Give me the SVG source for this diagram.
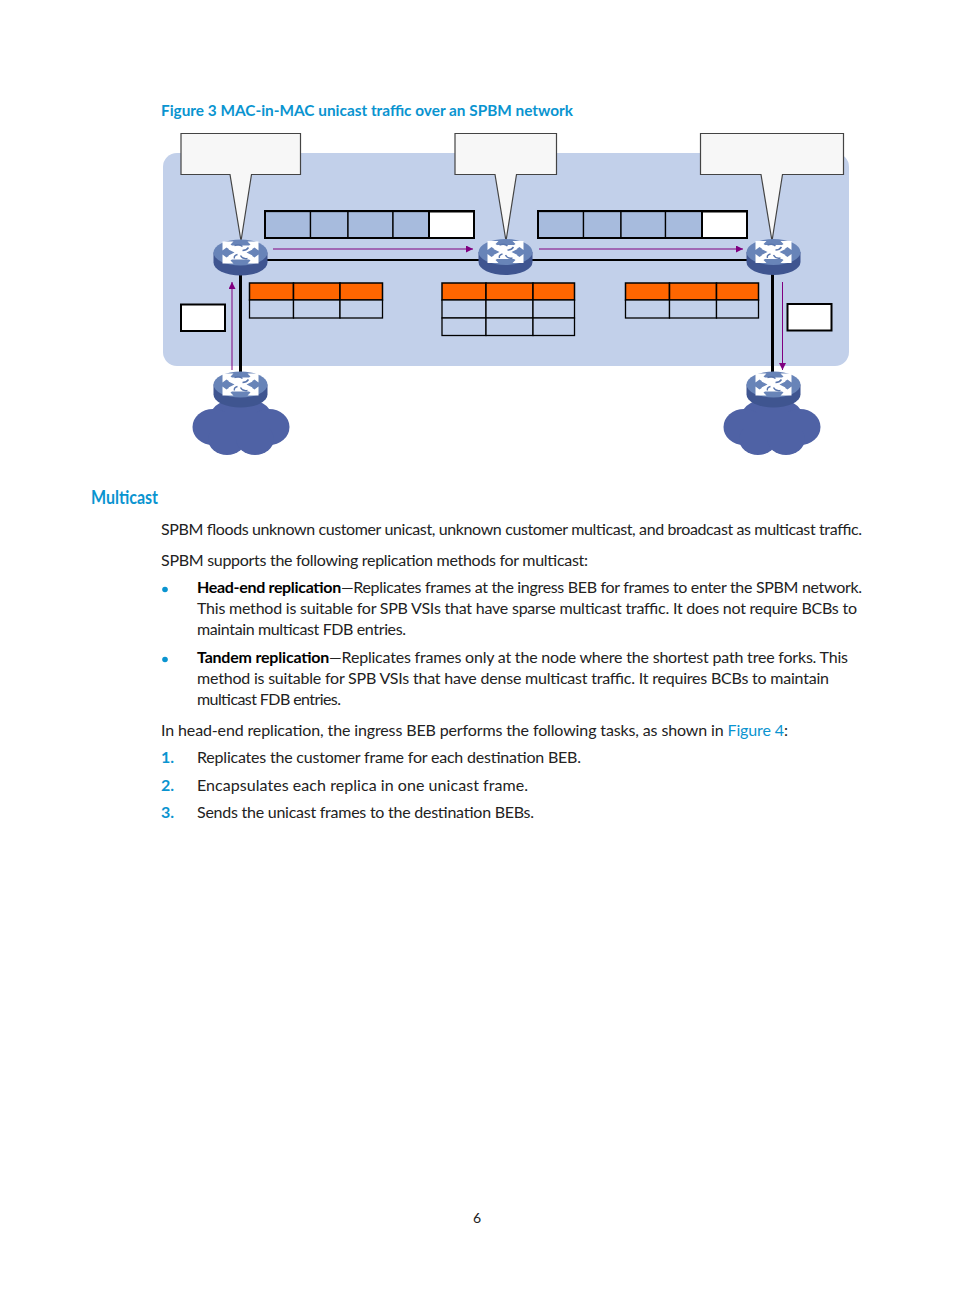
<svg xmlns="http://www.w3.org/2000/svg" xmlns:xlink="http://www.w3.org/1999/xlink" width="954" height="1296" viewBox="0 0 954 1296">
<style>
text{font-family:Lato,"Open Sans","Liberation Sans",sans-serif;font-size:16px;fill:#222}
.h{font-weight:700;fill:#0a94d0}
.b{font-weight:700;fill:#000}
.n{font-weight:700;fill:#0a94d0}
.lnk{fill:#0a94d0}
.call{fill:#f7f7f7;stroke:#444;stroke-width:1.2}
.cell{fill:#a7bbdd;stroke:#000;stroke-width:1.3}
.w{fill:#fff;stroke:#000;stroke-width:2}
.o{fill:#ff6600;stroke:#000;stroke-width:1.5}
.e{fill:#c2d0ea;stroke:#000;stroke-width:1.3}
.k{stroke:#000;fill:none}
.p{stroke:#800080;stroke-width:1;fill:none;marker-end:url(#a)}
</style>
<defs>
<marker id="a" markerUnits="userSpaceOnUse" markerWidth="8" markerHeight="8" refX="7" refY="3.5" orient="auto"><path d="M0,0L7,3.500L0,7z" fill="#800080"/></marker>
<g id="r">
<path d="M-27,0v10a27,13 0 0 0 54,0v-10z" fill="#3f5590"/>
<ellipse cx="0" cy="0" rx="27" ry="13" fill="#6884b8"/>
<g fill="#fff">
<path d="M-18,-11h11l-3,3 3,2 -4,3 -3,-2 -4,3z"/>
<path d="M18,-11h-11l3,3 -3,2 4,3 3,-2 4,3z"/>
<path d="M-18,11h11l-3,-3 3,-2 -4,-3 -3,2 -4,-3z"/>
<path d="M18,11h-11l3,-3 -3,-2 4,-3 3,2 4,-3z"/>
<path d="M-8,-7L8,-7L12,-3L6,0L12,3L8,7L-8,7L-12,3L-6,0L-12,-3z"/>
</g>
<path d="M-6,-7q5,-2 8,1M8,-5q-2,3 -6,3M-6,6q-1,-3 3,-4M7,6q-5,1 -7,-3" fill="none" stroke="#5a76ad" stroke-width="1.400"/>
</g>
<g id="c" fill="#4f62a5">
<ellipse cx="0" cy="-12" rx="30" ry="17"/>
<ellipse cx="-28" cy="0" rx="20.500" ry="18"/>
<ellipse cx="28" cy="0" rx="20.500" ry="18"/>
<ellipse cx="-14" cy="12" rx="19" ry="16"/>
<ellipse cx="14" cy="12" rx="19" ry="16"/>
<rect x="-28" y="-14" width="56" height="26"/>
</g>
</defs>

<text class="h" x="161" y="116" textLength="412" lengthAdjust="spacingAndGlyphs">Figure 3 MAC-in-MAC unicast traffic over an SPBM network</text>
<rect id="spbm-area" x="163" y="153" width="686" height="213" rx="14" fill="#c2d0ea"/>

<g id="connectors">
<path class="k" stroke-width="2" d="M267,260H480M532,260H748"/>
<path class="k" stroke-width="3" d="M240.500,272V372M772.500,272V372"/>
<path class="p" d="M273,249H473"/>
<path class="p" d="M539,249H743"/>
<path class="p" d="M232,370V282"/>
<path class="p" d="M782.500,282V370"/>
</g>

<g id="callout-left"><path class="call" d="M181,133.500H300.500V174.500H251.500L241,241L230,174.500H181z"/></g>
<g id="callout-mid"><path class="call" d="M455,133.500H556.500V174.500H516.500L506,241L495,174.500H455z"/></g>
<g id="callout-right"><path class="call" d="M700.500,133.500H843.500V174.500H782.500L772,241L761,174.500H700.500z"/></g>

<g id="frame-1">
<rect class="cell" x="265" y="211.500" width="45.500" height="26.500"/><rect class="cell" x="310.500" y="211.500" width="37.500" height="26.500"/><rect class="cell" x="348" y="211.500" width="45" height="26.500"/><rect class="cell" x="393" y="211.500" width="36" height="26.500"/><rect class="w" x="429" y="211.500" width="45" height="26.500"/>
<rect x="265" y="211" width="209" height="27" fill="none" stroke="#000" stroke-width="2"/>
</g>
<g id="frame-2">
<rect class="cell" x="538" y="211.500" width="45.500" height="26.500"/><rect class="cell" x="583.500" y="211.500" width="37.500" height="26.500"/><rect class="cell" x="621" y="211.500" width="44.500" height="26.500"/><rect class="cell" x="665.500" y="211.500" width="36.500" height="26.500"/><rect class="w" x="702" y="211.500" width="45" height="26.500"/>
<rect x="538" y="211" width="209" height="27" fill="none" stroke="#000" stroke-width="2"/>
</g>

<g id="table-left">
<rect class="o" x="249.500" y="283" width="44" height="17"/><rect class="o" x="293.500" y="283" width="46.500" height="17"/><rect class="o" x="340" y="283" width="42.500" height="17"/>
<rect class="e" x="249.500" y="300" width="44" height="18"/><rect class="e" x="293.500" y="300" width="46.500" height="18"/><rect class="e" x="340" y="300" width="42.500" height="18"/>
</g>
<g id="table-mid">
<rect class="o" x="442" y="283" width="44" height="17"/><rect class="o" x="486" y="283" width="47" height="17"/><rect class="o" x="533" y="283" width="41.500" height="17"/>
<rect class="e" x="442" y="300" width="44" height="18"/><rect class="e" x="486" y="300" width="47" height="18"/><rect class="e" x="533" y="300" width="41.500" height="18"/>
<rect class="e" x="442" y="318" width="44" height="17.500"/><rect class="e" x="486" y="318" width="47" height="17.500"/><rect class="e" x="533" y="318" width="41.500" height="17.500"/>
</g>
<g id="table-right">
<rect class="o" x="625.500" y="283" width="44" height="17"/><rect class="o" x="669.500" y="283" width="47" height="17"/><rect class="o" x="716.500" y="283" width="42" height="17"/>
<rect class="e" x="625.500" y="300" width="44" height="18"/><rect class="e" x="669.500" y="300" width="47" height="18"/><rect class="e" x="716.500" y="300" width="42" height="18"/>
</g>

<g id="box-left"><rect class="w" x="181" y="304.500" width="44" height="26.500"/></g>
<g id="box-right"><rect class="w" x="787.500" y="304" width="44" height="26.500"/></g>

<g id="cloud-left"><use href="#c" x="241" y="427"/></g>
<g id="cloud-right"><use href="#c" x="772" y="427"/></g>
<g id="router-1"><use href="#r" x="240.500" y="252.500"/></g>
<g id="router-2"><use href="#r" x="505.500" y="252"/></g>
<g id="router-3"><use href="#r" x="773.500" y="252"/></g>
<g id="router-4"><use href="#r" x="240.500" y="384.500"/></g>
<g id="router-5"><use href="#r" x="773.500" y="384.500"/></g>

<text class="h" x="91" y="504" style="font-size:18px" textLength="67" lengthAdjust="spacingAndGlyphs">Multicast</text>
<text x="161" y="535" textLength="701">SPBM floods unknown customer unicast, unknown customer multicast, and broadcast as multicast traffic.</text>
<text x="161" y="566" textLength="427">SPBM supports the following replication methods for multicast:</text>
<circle cx="165" cy="589.500" r="2.800" fill="#0a94d0"/>
<text x="197" y="593" textLength="665"><tspan class="b">Head-end replication</tspan>—Replicates frames at the ingress BEB for frames to enter the SPBM network.</text>
<text x="197" y="614" textLength="660">This method is suitable for SPB VSIs that have sparse multicast traffic. It does not require BCBs to</text>
<text x="197" y="635" textLength="209">maintain multicast FDB entries.</text>
<circle cx="165" cy="659.500" r="2.800" fill="#0a94d0"/>
<text x="197" y="663" textLength="651"><tspan class="b">Tandem replication</tspan>—Replicates frames only at the node where the shortest path tree forks. This</text>
<text x="197" y="684" textLength="632">method is suitable for SPB VSIs that have dense multicast traffic. It requires BCBs to maintain</text>
<text x="197" y="705" textLength="144">multicast FDB entries.</text>
<text x="161" y="736" textLength="623">In head-end replication, the ingress BEB performs the following tasks, as shown in <tspan class="lnk">Figure 4</tspan></text>
<text x="784" y="736">:</text>
<text class="n" x="161" y="763">1.</text><text x="197" y="763" textLength="384">Replicates the customer frame for each destination BEB.</text>
<text class="n" x="161" y="791">2.</text><text x="197" y="791" textLength="331">Encapsulates each replica in one unicast frame.</text>
<text class="n" x="161" y="818">3.</text><text x="197" y="818" textLength="337">Sends the unicast frames to the destination BEBs.</text>
<text x="473" y="1223" style="font-size:14px">6</text>
</svg>
